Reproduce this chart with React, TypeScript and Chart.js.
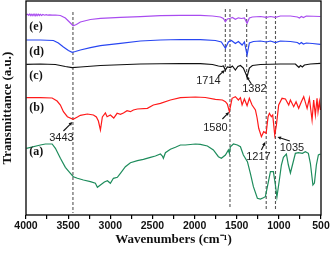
import React, { useEffect, useRef } from "react";
import { Chart, registerables } from "chart.js";
Chart.register(...registerables);

// [wavenumber (cm-1), transmittance (a.u., offset)]
const seriesE: [number, number][] = [
  [3995, 200], [3980, 200.8], [3968, 199.6], [3955, 200.9], [3942, 199.3], [3930, 200.8], [3918, 199.4],
  [3905, 201], [3892, 199.2], [3880, 200.9], [3868, 199.3], [3855, 200.8], [3842, 199.5], [3830, 200.7],
  [3815, 199.6], [3800, 200.5], [3780, 199.8], [3760, 200.4], [3740, 199.8], [3720, 200.2],
  [3690, 199.8], [3650, 200], [3592, 199.5], [3533, 197], [3473, 192], [3441, 189.3], [3402, 190.5],
  [3355, 193], [3236, 195.5], [3117, 196.7], [2880, 197.7], [2643, 198.3], [2405, 199.3], [2168, 199.7],
  [1931, 199.7], [1788, 199], [1694, 198], [1658, 196.5], [1634, 193.3], [1611, 196], [1575, 196.7],
  [1551, 197.5], [1516, 195.7], [1480, 197.2], [1444, 196.5], [1409, 197], [1377, 191.7], [1350, 197],
  [1314, 198], [1219, 198.5], [1148, 197.7], [1100, 198.5], [1041, 197.7], [982, 199], [863, 199],
  [780, 198], [756, 197], [733, 198.5], [709, 197.5], [674, 199], [507, 198.5],
];

const seriesD: [number, number][] = [
  [3995, 175], [3829, 175], [3675, 174.5], [3616, 172], [3556, 168], [3497, 164.5], [3453, 162.7],
  [3414, 163.5], [3355, 165], [3236, 167.3], [3117, 169.3], [2880, 171.7], [2643, 174], [2405, 175],
  [2168, 175.5], [1931, 175.3], [1753, 174.5], [1682, 173], [1634, 166.7], [1599, 173], [1563, 174.5],
  [1516, 171.5], [1480, 173.5], [1436, 170], [1409, 173], [1377, 160], [1350, 172], [1302, 173.5],
  [1219, 174], [1148, 173], [1100, 174], [1041, 172.5], [982, 174], [863, 173.5], [780, 172.5],
  [756, 171], [733, 172.5], [709, 171], [674, 172], [602, 171.5], [507, 170.7],
];

const seriesC: [number, number][] = [
  [3995, 150.7], [3829, 151], [3651, 150.5], [3533, 148.5], [3453, 147.3], [3355, 148], [3117, 149.5],
  [2643, 151], [2168, 151.5], [1931, 151.3], [1788, 150.5], [1717, 149], [1682, 148.5], [1658, 149],
  [1634, 145], [1611, 148], [1575, 147.5], [1551, 149], [1516, 145], [1486, 148.5], [1456, 149.5],
  [1421, 147], [1377, 138.3], [1350, 147], [1314, 149.5], [1219, 150.5], [982, 151], [804, 151],
  [780, 149], [762, 147.7], [744, 149.5], [721, 148], [697, 150], [626, 151], [507, 151.7],
];

const seriesB: [number, number][] = [
  [3995, 117.3], [3829, 117.3], [3690, 117], [3631, 114], [3592, 110], [3556, 103.3], [3509, 98.3],
  [3441, 95.7], [3390, 98], [3355, 99.7], [3272, 101], [3200, 100], [3165, 98], [3141, 94], [3117, 85],
  [3094, 98], [3058, 102], [3038, 98.3], [2999, 100], [2959, 97], [2919, 101.7], [2880, 100.7],
  [2844, 102], [2801, 104.3], [2761, 103.3], [2726, 105], [2678, 106], [2560, 106.7], [2489, 110],
  [2405, 111.7], [2287, 115], [2168, 117.3], [1990, 118], [1872, 117.5], [1753, 115.7], [1670, 115],
  [1634, 113.3], [1611, 111], [1587, 103.3], [1555, 116.7], [1516, 118.3], [1480, 115], [1456, 117.3],
  [1436, 110], [1409, 116], [1377, 109.3], [1350, 116.7], [1318, 110], [1278, 105], [1258, 97],
  [1239, 86.7], [1207, 78.3], [1180, 83.3], [1151, 81.7], [1128, 98.3], [1112, 101.7], [1089, 98.3],
  [1073, 100], [1049, 80], [1029, 90], [1002, 110], [962, 116.7], [922, 116], [883, 110], [863, 115],
  [824, 108.3], [796, 113.3], [765, 106.7], [733, 113.3], [705, 118.3], [665, 106.7], [638, 116.7],
  [606, 95], [587, 115], [567, 100], [547, 116.7], [535, 103.3], [519, 113.3], [507, 105],
];

const seriesA: [number, number][] = [
  [3995, 66.7], [3829, 70], [3770, 71], [3690, 71], [3651, 66.7], [3592, 56.7], [3533, 47.7],
  [3473, 41.7], [3438, 38.3], [3390, 36.7], [3319, 35], [3236, 33.3], [3177, 31.7], [3153, 27.7],
  [3117, 30], [3070, 33], [3034, 34.3], [2999, 31.7], [2963, 36.7], [2916, 37.7], [2880, 41.7],
  [2821, 48.3], [2761, 52.3], [2678, 54.3], [2607, 55.7], [2524, 57.7], [2465, 59], [2405, 61],
  [2382, 59], [2370, 56.7], [2346, 62.3], [2287, 65.7], [2227, 67.7], [2168, 70], [2109, 70],
  [1990, 71], [1931, 70.7], [1848, 69], [1777, 65], [1717, 58.3], [1682, 56.7], [1634, 60], [1599, 65],
  [1587, 61.7], [1575, 68.3], [1539, 71], [1492, 70], [1456, 68.3], [1421, 60], [1373, 53.3],
  [1338, 41.7], [1302, 28.3], [1255, 16.7], [1219, 16], [1184, 17.3], [1160, 18.3], [1136, 28.3],
  [1100, 43.3], [1065, 43.3], [1041, 30], [1023, 18], [994, 35], [970, 50], [946, 57.7], [911, 61],
  [887, 50], [863, 42], [839, 50], [804, 61.7], [768, 62.3], [721, 61.7], [685, 63.3], [650, 61.7],
  [626, 51.7], [596, 30], [578, 32], [555, 50], [531, 60], [507, 61],
];

const seriesColors = ["#1e8c5c", "#ff1a1a", "#111111", "#2846f2", "#a94cf0"];
const seriesNames = ["(a)", "(b)", "(c)", "(d)", "(e)"];
const seriesNameT = [63, 107, 139, 163, 188];
const seriesNameWave = 3960;

const dashWave = [3443, 1635, 1580, 1382, 1150, 1040];
const dashTopT = [203, 206, 206, 206, 204, 204];
const dashBottomT = [2, 143, 7, 137, 5, 5];

const annText = ["3443", "1580", "1714", "1382", "1217", "1035"];
const annWave = [3580, 1753, 1836, 1290, 1243, 845];
const annT = [77.5, 87, 134, 126, 58, 67.5];
const arrowFromWave = [3556, 1670, 1718, 1326, 1207, 870];
const arrowFromT = [84, 96, 139, 131, 65, 74];
const arrowToWave = [3450, 1590, 1640, 1385, 1162, 1017];
const arrowToT = [93, 103, 145, 139, 73, 78];

const xMin = 500;
const xMax = 4000;
const yMin = 0;
const yMax = 214;

const overlay = {
  id: "overlay",
  afterDatasetsDraw(chart: any) {
    const { ctx, chartArea, scales } = chart;
    const x = scales.x;
    const y = scales.y;
    ctx.save();
    ctx.strokeStyle = "#000";
    ctx.lineWidth = 1.3;
    ctx.strokeRect(
      chartArea.left,
      chartArea.top,
      chartArea.right - chartArea.left,
      chartArea.bottom - chartArea.top
    );
    ctx.fillStyle = "#111";
    ctx.font = 'bold 12px "Liberation Serif"';
    ctx.textAlign = "left";
    ctx.textBaseline = "middle";
    seriesNames.forEach((n, i) => {
      ctx.fillText(n, x.getPixelForValue(seriesNameWave), y.getPixelForValue(seriesNameT[i]));
    });
    ctx.font = '11px "Liberation Sans"';
    ctx.textAlign = "center";
    ctx.fillStyle = "#222";
    annText.forEach((t, i) => {
      ctx.fillText(t, x.getPixelForValue(annWave[i]), y.getPixelForValue(annT[i]));
      const x1 = x.getPixelForValue(arrowFromWave[i]);
      const y1 = y.getPixelForValue(arrowFromT[i]);
      const x2 = x.getPixelForValue(arrowToWave[i]);
      const y2 = y.getPixelForValue(arrowToT[i]);
      const ang = Math.atan2(y2 - y1, x2 - x1);
      const hl = 4;
      ctx.strokeStyle = "#111";
      ctx.lineWidth = 1.1;
      ctx.beginPath();
      ctx.moveTo(x1, y1);
      ctx.lineTo(x2 - Math.cos(ang) * hl * 0.8, y2 - Math.sin(ang) * hl * 0.8);
      ctx.stroke();
      ctx.fillStyle = "#111";
      ctx.beginPath();
      ctx.moveTo(x2, y2);
      ctx.lineTo(x2 - hl * Math.cos(ang - 0.45), y2 - hl * Math.sin(ang - 0.45));
      ctx.lineTo(x2 - hl * Math.cos(ang + 0.45), y2 - hl * Math.sin(ang + 0.45));
      ctx.closePath();
      ctx.fill();
      ctx.fillStyle = "#222";
    });
    ctx.restore();
  },
};

export default function App() {
  const ref = useRef<HTMLCanvasElement>(null);
  useEffect(() => {
    if (!ref.current) return;
    const all = [seriesA, seriesB, seriesC, seriesD, seriesE];
    const curveSets = all.map((s, i) => ({
      data: s.map(([w, t]) => ({ x: w, y: t })),
      borderColor: seriesColors[i],
      borderWidth: 1.2,
      pointRadius: 0,
      fill: false,
      tension: 0,
    }));
    const dashSets = dashWave.map((w, i) => ({
      data: [
        { x: w, y: dashTopT[i] },
        { x: w, y: dashBottomT[i] },
      ],
      borderColor: "#555",
      borderWidth: 1.1,
      borderDash: [3, 2],
      pointRadius: 0,
      fill: false,
    }));
    const chart = new Chart(ref.current, {
      type: "line",
      data: { datasets: [...curveSets, ...dashSets] as any },
      options: {
        animation: false,
        responsive: false,
        events: [],
        layout: { padding: { top: 1, right: 10, left: 0, bottom: 0 } },
        plugins: { legend: { display: false }, tooltip: { enabled: false } },
        scales: {
          x: {
            type: "linear",
            reverse: true,
            min: xMin,
            max: xMax,
            afterFit: (s: any) => {
              s.height = 38;
            },
            border: { display: false },
            grid: {
              display: true,
              drawOnChartArea: false,
              drawTicks: true,
              tickLength: 4,
              color: "#000",
              lineWidth: 1.2,
            },
            ticks: {
              stepSize: 250,
              autoSkip: false,
              maxRotation: 0,
              padding: 1,
              color: "#111",
              font: { family: "Liberation Sans", size: 10.5, weight: "bold" },
              callback: (v: any) => (Number(v) % 500 === 0 ? String(v) : ""),
            },
            title: {
              display: true,
              text: "Wavenumbers (cm⁻¹)",
              color: "#111",
              font: { family: "Liberation Serif", size: 13, weight: "bold" },
              padding: { top: 0, bottom: 6 },
            },
          },
          y: {
            type: "linear",
            min: yMin,
            max: yMax,
            afterFit: (s: any) => {
              s.width = 26;
            },
            border: { display: false },
            grid: { display: false },
            ticks: { display: false },
            title: {
              display: true,
              text: "Transmittance (a.u.)",
              color: "#111",
              font: { family: "Liberation Serif", size: 13, weight: "bold" },
              padding: { top: 0, bottom: 0 },
            },
          },
        },
      } as any,
      plugins: [overlay],
    });
    return () => chart.destroy();
  }, []);
  return (
    <div style={{ position: "absolute", left: 0, top: 0, width: 331, height: 253 }}>
      <canvas ref={ref} width={331} height={253} style={{ display: "block" }} />
    </div>
  );
}
